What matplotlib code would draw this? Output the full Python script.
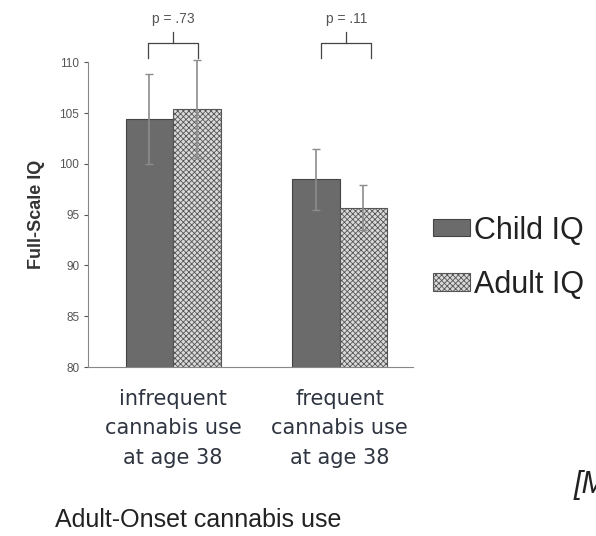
import matplotlib.pyplot as plt
import numpy as np

groups = ['infrequent\ncannabis use\nat age 38', 'frequent\ncannabis use\nat age 38']
child_iq = [104.4, 98.5]
adult_iq = [105.4, 95.7]
child_err = [4.4, 3.0]
adult_err = [4.8, 2.2]
p_labels = ['p = .73', 'p = .11']
series = ['Child IQ', 'Adult IQ']

plt.rcParams['hatch.color'] = '#9a9a9a'
plt.rcParams['hatch.linewidth'] = 0.6
plt.rcParams['font.family'] = ['Liberation Sans', 'DejaVu Sans']

fig = plt.figure(figsize=(5.96, 5.36), dpi=100)
ax = fig.add_axes([0.148, 0.315, 0.545, 0.569])

x = np.arange(len(groups))
w = 0.285
b1 = ax.bar(x - w/2, child_iq, w, color='#6b6b6b', edgecolor='#444444', linewidth=0.8,
            label=series[0])
b2 = ax.bar(x + w/2, adult_iq, w, color='#dadada', edgecolor='#555555', linewidth=0.8,
            hatch='xxxxxx', label=series[1])
ax.errorbar(x - w/2, child_iq, yerr=child_err, fmt='none', ecolor='#8c8c8c',
            elinewidth=1.2, capsize=3, clip_on=False)
ax.errorbar(x + w/2, adult_iq, yerr=adult_err, fmt='none', ecolor='#8c8c8c',
            elinewidth=1.2, capsize=3, clip_on=False)

ax.set_ylim(80, 110)
ax.set_xlim(-0.51, 1.44)
ax.set_yticks(range(80, 111, 5))
ax.set_xticks([])
ax.tick_params(axis='y', labelsize=8.5, colors='#555555', length=3)
for s in ['top', 'right']:
    ax.spines[s].set_visible(False)
for s in ['left', 'bottom']:
    ax.spines[s].set_color('#888888')
ax.set_ylabel('Full-Scale IQ', fontsize=13, fontweight='bold', color='#333333', labelpad=10)

# p-value brackets
for i, p in enumerate(p_labels):
    c = i + 0.04 * i
    l, r = c - 0.15, c + 0.15
    yb, yl, yt = 111.9, 110.4, 112.95
    ax.plot([l, l, r, r], [yl, yb, yb, yl], color='#444444', lw=0.9, clip_on=False)
    ax.plot([c, c], [yb, yt], color='#444444', lw=0.9, clip_on=False)
    ax.text(c, 114.2, p, ha='center', va='center', fontsize=10, color='#555555')

for i, g in enumerate(groups):
    ax.text(i, 77.9, g, ha='center', va='top', fontsize=15, color='#2f3540',
            family='DejaVu Sans', linespacing=1.62)

fig.text(0.092, 0.017, 'Adult-Onset cannabis use', fontsize=18, color='#222222',
         va='baseline')
fig.text(0.962, 0.08, '[M', fontsize=22, color='#222222', style='italic', va='baseline')

fig.legend(handles=[b1, b2], labels=series, loc='center left',
           bbox_to_anchor=(0.681, 0.519), frameon=False, fontsize=22,
           handlelength=1.2, handleheight=0.5, handletextpad=0.12, labelspacing=0.8,
           labelcolor='#222222')

fig.savefig('out.png', dpi=100)
